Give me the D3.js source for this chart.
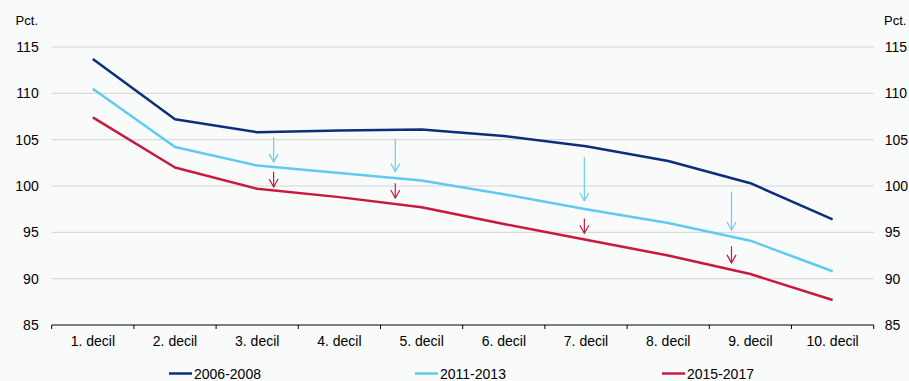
<!DOCTYPE html>
<html><head><meta charset="utf-8">
<script src="https://cdn.jsdelivr.net/npm/d3@7"></script>
<style>
html,body{margin:0;padding:0;background:#f9fafa;}
svg{display:block;font-family:"Liberation Sans",Arial,sans-serif;}
</style></head>
<body><svg id="c" width="909" height="381"></svg>
<script>
const categories = ["1. decil","2. decil","3. decil","4. decil","5. decil","6. decil","7. decil","8. decil","9. decil","10. decil"];
const s2006 = [113.7,107.2,105.8,106.0,106.1,105.4,104.3,102.7,100.3,96.4];
const s2011 = [110.5,104.2,102.2,101.4,100.6,99.1,97.5,96.0,94.1,90.8];
const s2015 = [107.4,102.0,99.7,98.8,97.7,95.9,94.2,92.5,90.5,87.7];
const seriesNames = ["2006-2008","2011-2013","2015-2017"];
const yTicks = [85,90,95,100,105,110,115];
// arrows: position in decile index units, from/to values
const blueArrows = [{x:2.2,y0:105.3,y1:102.6},{x:3.68,y0:105.05,y1:101.55},{x:5.98,y0:103.1,y1:98.4},{x:7.77,y0:99.4,y1:95.25}];
const redArrows  = [{x:2.2,y0:101.55,y1:99.9},{x:3.68,y0:100.3,y1:98.7},{x:5.98,y0:96.5,y1:94.9},{x:7.77,y0:93.5,y1:91.7}];

const colors = ["#0b2f7a","#5fcbf0","#c8193f"];
const FS = 14;
const svg = d3.select("#c");
const L = 51.7, R = 873.7, T = 47, B = 325;
const x = d3.scaleBand().domain(categories).range([L,R]).padding(0);
const xi = d3.scaleLinear().domain([0,9]).range([L+x.bandwidth()/2, R-x.bandwidth()/2]);
const y = d3.scaleLinear().domain([85,115]).range([B,T]);

// gridlines
svg.append("g").selectAll("line").data(yTicks.filter(d=>d>85)).join("line")
  .attr("x1",L).attr("x2",R).attr("y1",d=>y(d)).attr("y2",d=>y(d))
  .attr("stroke","#d3d3d3").attr("stroke-width",1);

// x axis
const xa = svg.append("g").attr("transform",`translate(0,${B})`)
  .call(d3.axisBottom(x).tickSize(0).tickPadding(11));
xa.select(".domain").attr("stroke","#000").attr("d",`M${L},0H${R}`);
xa.selectAll("text").attr("font-size",FS).attr("fill","#000").attr("font-family","Liberation Sans, Arial, sans-serif");
// band boundary ticks
svg.append("g").selectAll("line").data(d3.range(11)).join("line")
  .attr("x1",i=>L+i*x.bandwidth()).attr("x2",i=>L+i*x.bandwidth())
  .attr("y1",B).attr("y2",B+4).attr("stroke","#000").attr("stroke-width",1);

// y axes
const yl = svg.append("g").attr("transform",`translate(${L},0)`)
  .call(d3.axisLeft(y).tickValues(yTicks).tickSize(0).tickPadding(13));
yl.select(".domain").remove();
yl.selectAll("text").attr("font-size",FS).attr("fill","#000").attr("font-family","Liberation Sans, Arial, sans-serif");
const yr = svg.append("g").attr("transform",`translate(${R},0)`)
  .call(d3.axisRight(y).tickValues(yTicks).tickSize(0).tickPadding(11));
yr.select(".domain").remove();
yr.selectAll("text").attr("font-size",FS).attr("fill","#000").attr("font-family","Liberation Sans, Arial, sans-serif");

svg.append("text").attr("x",38).attr("y",25).attr("text-anchor","end").attr("font-size",13).text("Pct.");
svg.append("text").attr("x",884).attr("y",25).attr("text-anchor","start").attr("font-size",13).text("Pct.");

// lines
const line = d3.line().x((d,i)=>x(categories[i])+x.bandwidth()/2).y(d=>y(d));
[s2006,s2011,s2015].forEach((s,k)=>{
  svg.append("path").datum(s).attr("d",line).attr("fill","none")
    .attr("stroke",colors[k]).attr("stroke-width",2.5).attr("stroke-linejoin","round");
});

// arrows
function drawArrows(arr,col){
  const g = svg.append("g").attr("stroke",col).attr("fill","none").attr("stroke-width",1.2);
  arr.forEach(a=>{
    const px = xi(a.x), p0 = y(a.y0), p1 = y(a.y1);
    g.append("line").attr("x1",px).attr("x2",px).attr("y1",p0).attr("y2",p1);
    g.append("path").attr("d",`M${px-4.5},${p1-8}L${px},${p1}L${px+4.5},${p1-8}`);
  });
}
drawArrows(blueArrows,"#6ccdf0");
drawArrows(redArrows,"#c8193f");

// legend
const legX = [169,415,662];
const lg = svg.append("g");
seriesNames.forEach((n,k)=>{
  lg.append("line").attr("x1",legX[k]).attr("x2",legX[k]+23).attr("y1",373.5).attr("y2",373.5)
    .attr("stroke",colors[k]).attr("stroke-width",2.5);
  lg.append("text").attr("x",legX[k]+25).attr("y",378.5).attr("font-size",FS).text(n);
});
</script></body></html>
